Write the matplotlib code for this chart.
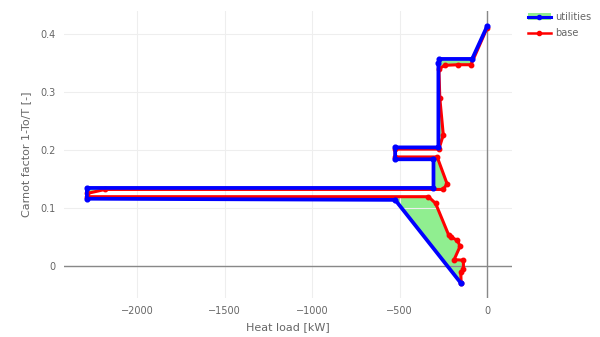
import matplotlib
matplotlib.use("Agg")
import matplotlib.pyplot as plt
from matplotlib.lines import Line2D
from matplotlib.patches import Patch, Polygon
from matplotlib.ticker import FuncFormatter

# utilities curve (hot side -> cold side)
util_q = [0, -85, -272, -278, -278, -525, -525, -306, -306, -2287, -2287, -525, -148]
util_cf = [0.413, 0.357, 0.357, 0.350, 0.2045, 0.2045, 0.184, 0.184, 0.1346, 0.1346, 0.116, 0.114, -0.030]

# base curve
base_q = [0, -92, -166, -240, -275, -270, -250, -275, -525, -525, -285, -228, -251,
          -2183, -2287, -2287, -335, -294, -220, -205, -169, -154, -188, -135, -135, -150, -148]
base_cf = [0.410, 0.347, 0.347, 0.346, 0.340, 0.290, 0.226, 0.2015, 0.2015, 0.188, 0.188, 0.1415, 0.132,
           0.132, 0.125, 0.1195, 0.1195, 0.108, 0.054, 0.050, 0.044, 0.034, 0.011, 0.010, -0.006, -0.011, -0.030]

xticks = [-2000, -1500, -1000, -500, 0]
yticks = [0, 0.1, 0.2, 0.3, 0.4]

fig = plt.figure(figsize=(6, 3.37), dpi=100)
ax = fig.add_axes([0.106, 0.116, 0.748, 0.852])

txt = "#666666"

# green area between the two curves
poly = Polygon(list(zip(util_q, util_cf)) + list(zip(base_q[::-1], base_cf[::-1])),
               closed=True, facecolor="#90ee90", edgecolor="none", zorder=1)
ax.add_patch(poly)

ax.plot(base_q, base_cf, color="#ff0000", lw=2.2, marker="o", ms=3.2,
        solid_joinstyle="round", zorder=3)
ax.plot(util_q, util_cf, color="#0000ff", lw=2.7, marker="o", ms=3.4,
        solid_joinstyle="round", zorder=4)

ax.set_xlim(-2420, 145)
ax.set_ylim(-0.055, 0.44)

ax.set_xticks(xticks)
ax.set_yticks(yticks)
ax.xaxis.set_major_formatter(FuncFormatter(lambda v, p: f"{v:.0f}".replace("-", "\u2212")))
ax.yaxis.set_major_formatter(FuncFormatter(lambda v, p: "0" if v == 0 else f"{v:.1f}"))
ax.grid(True, color="#eeeeee", lw=0.8, zorder=0)
ax.axhline(0, color="#888888", lw=1, zorder=2)
ax.axvline(0, color="#888888", lw=1, zorder=2)
for s in ax.spines.values():
    s.set_visible(False)
ax.tick_params(length=0, labelsize=7, colors=txt, pad=6)

ax.set_xlabel("Heat load [kW]", fontsize=8, color=txt, labelpad=4)
ax.set_ylabel("Carnot factor 1-To/T [-]", fontsize=8, color=txt, labelpad=6)

handles = [
    (Patch(facecolor="#90ee90", edgecolor="none"),
     Line2D([], [], color="#0000ff", lw=2.2, marker="o", ms=3)),
    Line2D([], [], color="#ff0000", lw=1.8, marker="o", ms=3),
]
leg = fig.legend(handles, ["utilities", "base"], loc="upper left",
                 bbox_to_anchor=(0.865, 0.99), frameon=False, fontsize=7,
                 handlelength=2.4, handletextpad=0.4, labelspacing=0.6)
for t in leg.get_texts():
    t.set_color(txt)

fig.savefig("out.png", dpi=100)
